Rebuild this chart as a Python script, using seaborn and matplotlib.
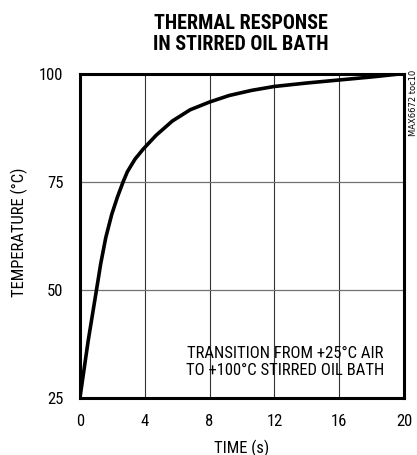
import matplotlib
matplotlib.use("Agg")
import matplotlib.pyplot as plt
import pandas as pd
import seaborn as sns

time_s = [0, 0.5, 1.0, 1.28, 1.59, 1.96, 2.31, 2.67, 2.93, 3.4, 3.9, 4.7, 5.7,
          6.8, 8, 9.2, 10.6, 12, 14, 16, 18, 20]
temp_c = [25, 38, 49.5, 56.0, 62.0, 67.4, 71.4, 75, 77.3, 80.2, 82.5, 85.7, 89.0,
          91.6, 93.4, 94.9, 96.1, 97, 97.8, 98.5, 99.2, 100]
x_ticks = [0, 4, 8, 12, 16, 20]
y_ticks = [25, 50, 75, 100]

FONT = ["Roboto Condensed", "DejaVu Sans"]

sns.set_style("white")
plt.rcParams["font.family"] = FONT
plt.rcParams["text.color"] = "black"
plt.rcParams["axes.labelcolor"] = "black"

df = pd.DataFrame({"time": time_s, "temp": temp_c})

fig = plt.figure(figsize=(4.17, 4.56), dpi=100)
ax = fig.add_axes([80 / 417, 1 - 398.5 / 456, 324 / 417, 324 / 456])

# grid drawn by hand so only the inner lines show
for t in x_ticks[1:-1]:
    ax.axvline(t, color="#333333", lw=0.8, zorder=1)
for v in y_ticks[1:-1]:
    ax.axhline(v, color="#707070", lw=0.9, zorder=1)

sns.lineplot(data=df, x="time", y="temp", ax=ax, color="black", lw=2.6, zorder=3,
             solid_joinstyle="round", solid_capstyle="round")

ax.set_xlim(0, 20)
ax.set_ylim(25, 100)
ax.set_xticks(x_ticks)
ax.set_yticks(y_ticks)
ax.tick_params(length=0, labelsize=12, colors="black")
ax.tick_params(axis="x", pad=11)
ax.tick_params(axis="y", pad=12)
for s in ax.spines.values():
    s.set_color("black")
    s.set_linewidth(2.2)

ax.set_xlabel("TIME (s)", fontsize=12)
ax.set_ylabel("TEMPERATURE (°C)", fontsize=12)
ax.xaxis.set_label_coords(0.5, -0.128)
ax.yaxis.set_label_coords(-52 / 324, 0.514)

ax.text(12.65, 33.5, "TRANSITION FROM +25°C AIR\nTO +100°C STIRRED OIL BATH",
        ha="center", va="center", fontsize=12, linespacing=1.2)

fig.text(241 / 417, 1 - 34 / 456, "THERMAL RESPONSE\nIN STIRRED OIL BATH",
         ha="center", va="center", fontsize=14.5, fontweight="bold", linespacing=1.1)
fig.text(414 / 417, 1 - 103 / 456, "MAX6672 toc10", rotation=90,
         ha="center", va="center", fontsize=6, family="DejaVu Sans")

fig.savefig("out.png", dpi=100)
plt.close(fig)
